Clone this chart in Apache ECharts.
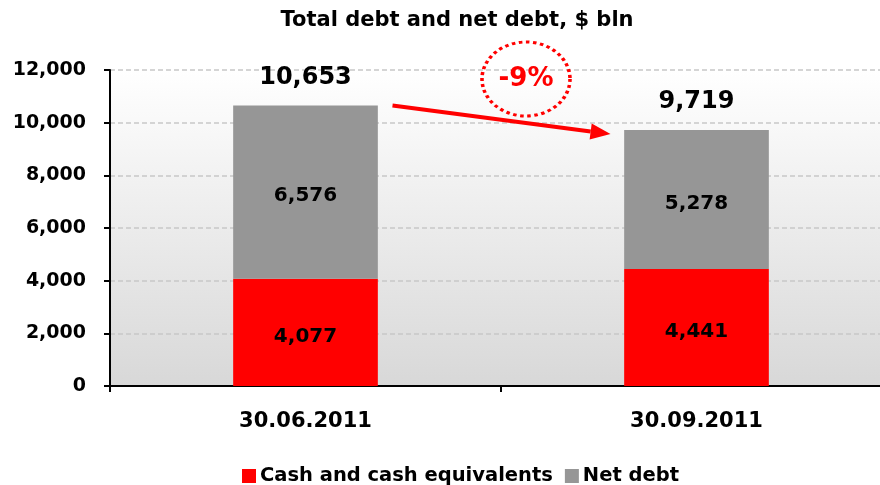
<!DOCTYPE html>
<html>
<head>
<meta charset="utf-8">
<script src="https://cdn.jsdelivr.net/npm/echarts@6/dist/echarts.min.js"></script>
<style>html,body{margin:0;padding:0;background:#fff;overflow:hidden}#c{width:892px;height:485px}</style>
</head>
<body>
<div id="c"></div>
<script>
var categories = ['30.06.2011', '30.09.2011'];
var cashValues = [4077, 4441];
var netDebtValues = [6576, 5278];
var totalValues = [10653, 9719];
var changeLabel = '-9%';
var seriesNames = ['Cash and cash equivalents', 'Net debt'];

var FONT = 'DejaVu Sans';
function fmt(v) { return String(v).replace(/\B(?=(\d{3})+(?!\d))/g, ','); }

var chart = echarts.init(document.getElementById('c'), null, {renderer: 'canvas'});
chart.setOption({
  animation: false,
  title: {
    text: 'Total debt and net debt, $ bln',
    left: 452, top: 5, textAlign: 'center',
    textStyle: {fontFamily: FONT, fontWeight: 'bold', fontSize: 21, color: '#000'}
  },
  legend: {
    data: seriesNames,
    left: 237, top: 461,
    itemWidth: 14, itemHeight: 14, itemGap: 12,
    icon: 'rect',
    textStyle: {fontFamily: FONT, fontWeight: 'bold', fontSize: 19.5, color: '#000', padding: [0, 0, 0, -1]}
  },
  grid: {
    left: 110, top: 70, right: 0, bottom: 99,
    show: true, borderWidth: 0,
    backgroundColor: new echarts.graphic.LinearGradient(0, 0, 0, 1, [
      {offset: 0, color: '#ffffff'}, {offset: 1, color: '#d8d8d8'}
    ])
  },
  xAxis: {
    type: 'category', data: categories,
    axisLine: {lineStyle: {color: '#000', width: 2}},
    axisTick: {show: true, length: 6, lineStyle: {color: '#000', width: 2}},
    axisLabel: {fontFamily: FONT, fontWeight: 'bold', fontSize: 21, color: '#000', margin: 25}
  },
  yAxis: {
    type: 'value', min: 0, max: 12000, interval: 2000,
    axisLine: {show: true, lineStyle: {color: '#000', width: 2}},
    axisTick: {show: true, length: 6, lineStyle: {color: '#000', width: 2}},
    axisLabel: {fontFamily: FONT, fontWeight: 'bold', fontSize: 19, color: '#000', margin: 24, formatter: fmt},
    splitLine: {show: true, lineStyle: {color: '#c8c8c8', width: 1.5, type: [5, 3]}}
  },
  series: [
    {
      name: seriesNames[0], type: 'bar', stack: 'd', data: cashValues,
      barCategoryGap: '63%',
      itemStyle: {color: '#ff0000'},
      label: {show: true, position: 'inside', offset: [0, 4], formatter: function (p) { return fmt(p.value); },
        fontFamily: FONT, fontWeight: 'bold', fontSize: 20, color: '#000'}
    },
    {
      name: seriesNames[1], type: 'bar', stack: 'd', data: netDebtValues,
      itemStyle: {color: '#969696'},
      label: {show: true, position: 'inside', offset: [0, 4], formatter: function (p) { return fmt(p.value); },
        fontFamily: FONT, fontWeight: 'bold', fontSize: 20, color: '#000'}
    },
    {
      name: 'total', type: 'bar', stack: 'd', data: totalValues.map(function () { return 0; }),
      itemStyle: {color: 'transparent'},
      label: {show: true, position: 'top', distance: 16,
        formatter: function (p) { return fmt(totalValues[p.dataIndex]); },
        fontFamily: FONT, fontWeight: 'bold', fontSize: 24, color: '#000'}
    }
  ]
});

// Annotation: arrow from bar 1 top to bar 2 top, and the dotted circle with change label
var p0 = chart.convertToPixel({gridIndex: 0}, [0, totalValues[0]]);
var p1 = chart.convertToPixel({gridIndex: 0}, [1, totalValues[1]]);
var x0 = p0[0] + 87, y0 = p0[1];
var x1 = p1[0] - 86, y1 = p1[1] + 4;
var ang = Math.atan2(y1 - y0, x1 - x0);
var hl = 20, hw = 8;
var bx = x1 - hl * Math.cos(ang), by = y1 - hl * Math.sin(ang);
var nx = -Math.sin(ang), ny = Math.cos(ang);
var cx = (p0[0] + p1[0]) / 2 + 25, cy = 79;
chart.setOption({
  graphic: [
    {type: 'line', shape: {x1: x0, y1: y0, x2: bx, y2: by}, style: {stroke: '#ff0000', lineWidth: 4}, z: 100},
    {type: 'polygon', shape: {points: [[x1, y1], [bx + nx * hw, by + ny * hw], [bx - nx * hw, by - ny * hw]]},
      style: {fill: '#ff0000'}, z: 100},
    {type: 'circle', x: cx, y: cy, scaleX: 44 / 37, shape: {cx: 0, cy: 0, r: 37},
      style: {fill: 'none', stroke: '#ff0000', lineWidth: 3, lineDash: [3, 3], strokeNoScale: true}, z: 100},
    {type: 'text', x: cx, y: cy, style: {text: changeLabel, fill: '#ff0000', font: 'bold 26px "DejaVu Sans"',
      textAlign: 'center', textVerticalAlign: 'middle'}, z: 101}
  ]
});
</script>
</body>
</html>
